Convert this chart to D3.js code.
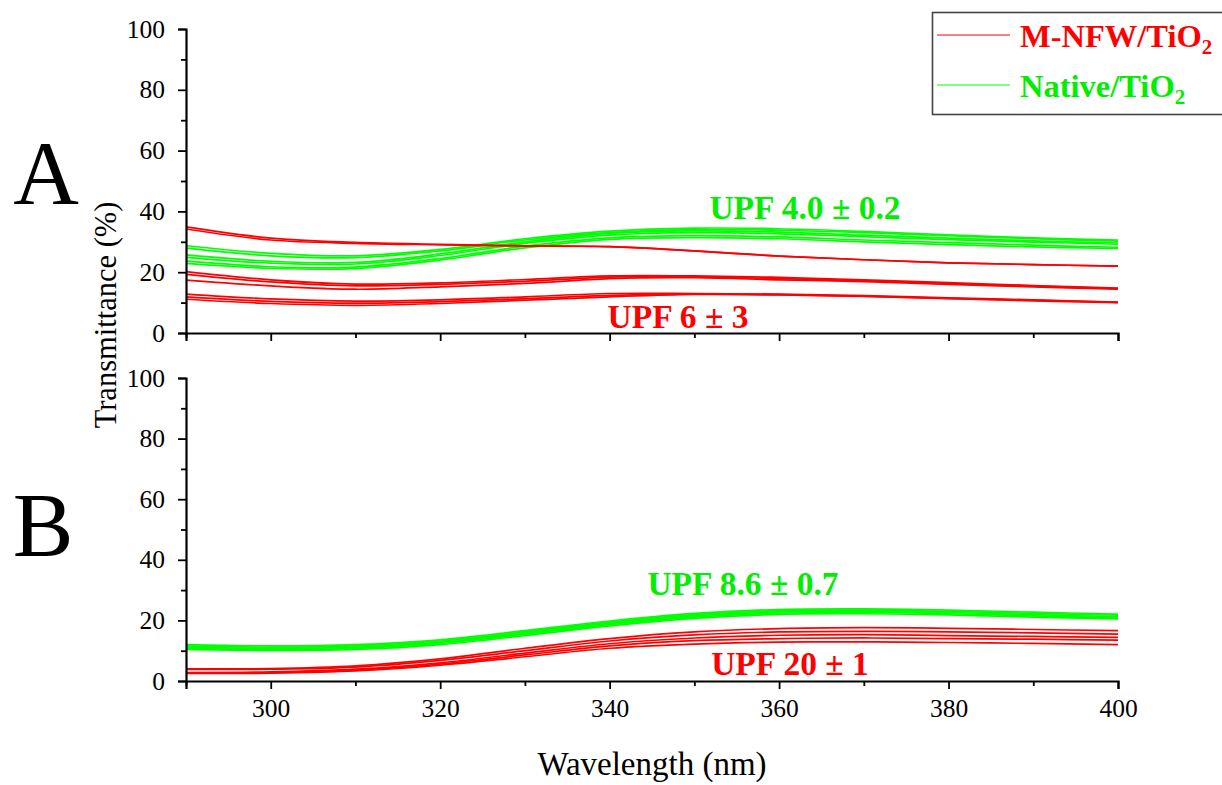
<!DOCTYPE html>
<html><head><meta charset="utf-8">
<script src="https://cdn.jsdelivr.net/npm/d3@7"></script>
<style>body{margin:0;background:#fff}svg{display:block}text{font-family:"Liberation Serif","Times New Roman",serif}</style>
</head><body>
<svg id="c" width="1222" height="785"></svg>
<script>
const wavelengths = [290,300,310,320,330,340,350,360,370,380,390,400];

// Panel A (top) — M-NFW/TiO2 (red)
const redA = [
  [34.9,31.2,29.8,29.2,28.7,28.4,27.0,25.3,24.1,23.1,22.5,22.0],
  [34.2,30.6,29.5,29.0,28.6,28.4,27.0,25.3,24.1,23.1,22.5,22.0],
  [20.2,17.5,16.1,16.5,17.6,18.8,18.8,18.3,17.5,16.6,15.6,14.8],
  [19.3,16.8,15.5,16.0,17.0,18.4,18.5,17.9,17.2,16.3,15.4,14.6],
  [17.4,15.5,14.4,15.2,16.3,17.9,18.2,17.5,16.9,16.0,15.2,14.4],
  [12.8,11.2,10.5,10.9,11.9,13.0,13.0,12.8,12.3,11.6,10.9,10.2],
  [11.9,10.4,9.8,10.3,11.3,12.4,12.9,12.6,12.1,11.4,10.8,10.1],
  [11.1,9.7,9.1,9.7,10.8,11.9,12.7,12.5,12.0,11.3,10.6,10.0]
];
// Panel A — Native/TiO2 (green)
const greenA = [
  [28.7,26.2,25.4,27.5,31.0,33.5,34.5,34.3,33.4,32.3,31.3,30.6],
  [27.9,25.4,24.8,27.0,30.6,33.0,34.0,33.8,33.0,32.0,31.0,30.2],
  [25.7,23.6,23.2,26.0,30.0,32.8,33.6,33.2,32.2,31.2,30.3,29.6],
  [24.9,23.0,22.7,25.5,29.5,32.2,33.0,32.6,31.7,30.7,29.9,29.2],
  [23.7,21.8,21.7,24.5,28.6,31.3,32.0,31.6,30.6,29.7,28.9,28.2],
  [22.9,21.3,21.2,24.0,28.0,30.8,31.4,31.0,30.0,29.1,28.3,27.8]
];
// Panel B (bottom) — M-NFW/TiO2 (red)
const redB = [
  [4.0,4.1,5.0,7.3,10.8,14.0,16.2,17.3,17.6,17.4,17.0,16.6],
  [3.8,3.9,4.6,6.8,10.0,13.2,15.2,16.2,16.4,16.2,15.9,15.5],
  [2.8,3.0,3.9,6.0,9.2,12.3,14.2,15.1,15.3,15.0,14.7,14.4],
  [2.6,2.8,3.6,5.6,8.6,11.6,13.3,14.0,14.2,14.0,13.8,13.5],
  [2.5,2.6,3.3,5.2,8.0,10.8,12.2,12.8,12.9,12.7,12.4,12.0]
];
// Panel B — Native/TiO2 (green)
const greenB = [
  [12.0,11.6,12.0,13.6,16.6,19.8,22.3,23.6,23.8,23.4,22.7,22.1],
  [11.6,11.2,11.6,13.2,16.2,19.4,21.9,23.2,23.4,23.0,22.3,21.7],
  [11.2,10.8,11.2,12.8,15.8,19.0,21.5,22.8,23.0,22.6,21.9,21.2],
  [10.8,10.4,10.8,12.4,15.4,18.6,21.1,22.4,22.6,22.2,21.5,20.8],
  [10.4,10.1,10.4,12.0,15.0,18.2,20.7,22.0,22.2,21.8,21.1,20.5]
];
const yTicks = [0,20,40,60,80,100];
const xTicks = [300,320,340,360,380,400];
const seriesNames = ["M-NFW/TiO", "Native/TiO"];
const upfA = ["UPF 4.0 \u00b1 0.2", "UPF 6 \u00b1 3"];
const upfB = ["UPF 8.6 \u00b1 0.7", "UPF 20 \u00b1 1"];

const RED = "#ff0000", GREEN = "#00ff00", GREENTXT = "#00ee00";
const svg = d3.select("#c");
const x = d3.scaleLinear().domain([290,400]).range([186,1118]);

function panel(top, bottom, reds, greens, showXLabels, letter, letterX, letterY) {
  const y = d3.scaleLinear().domain([0,100]).range([bottom, top]);
  const g = svg.append("g");
  const line = d3.line().x((d,i)=>x(wavelengths[i])).y(d=>y(d)).curve(d3.curveCatmullRom.alpha(0.5));
  greens.forEach(s => g.append("path").attr("d", line(s)).attr("fill","none").attr("stroke",GREEN).attr("stroke-width",1.7));
  reds.forEach(s => g.append("path").attr("d", line(s)).attr("fill","none").attr("stroke",RED).attr("stroke-width",1.7));

  g.append("g").attr("transform",`translate(${x(290)},0)`)
    .call(d3.axisLeft(y).tickValues(yTicks).tickSize(8).tickPadding(13).tickFormat(d3.format("d")));
  g.append("g").attr("transform",`translate(${x(290)},0)`)
    .call(d3.axisLeft(y).tickValues([10,30,50,70,90]).tickSize(5).tickFormat(""))
    .call(a=>a.select(".domain").remove());
  g.append("g").attr("transform",`translate(0,${bottom})`)
    .call(d3.axisBottom(x).tickValues(xTicks).tickSize(8).tickPadding(10).tickFormat(showXLabels ? d3.format("d") : ""));
  g.append("g").attr("transform",`translate(0,${bottom})`)
    .call(d3.axisBottom(x).tickValues([290,310,330,350,370,390]).tickSize(5).tickFormat(""))
    .call(a=>a.select(".domain").remove());
  g.selectAll(".domain").attr("stroke","#000").attr("stroke-width",2.2);
  g.selectAll(".tick line").attr("stroke","#000").attr("stroke-width",1.8);
  g.selectAll(".tick text").attr("font-size",25.5).attr("fill","#000");

  svg.append("text").attr("x",letterX).attr("y",letterY).attr("text-anchor","middle")
    .attr("font-size",91).attr("fill","#000").text(letter);
  return y;
}

panel(29, 333, redA, greenA, false, "A", 46, 204);
panel(378, 681, redB, greenB, true, "B", 43, 556);

function label(txt, cx, by, col) {
  svg.append("text").attr("x",cx).attr("y",by).attr("text-anchor","middle")
    .attr("font-size",33.5).attr("font-weight","bold").attr("fill",col).text(txt);
}
label(upfA[0], 805, 219, GREENTXT);
label(upfA[1], 678, 328, RED);
label(upfB[0], 743, 595, GREENTXT);
label(upfB[1], 790, 675, RED);

svg.append("text").attr("transform","translate(116,315) rotate(-90)").attr("text-anchor","middle")
  .attr("font-size",30.5).attr("fill","#000").text("Transmittance (%)");
svg.append("text").attr("x",652).attr("y",775).attr("text-anchor","middle")
  .attr("font-size",33).attr("fill","#000").text("Wavelength (nm)");

const lg = svg.append("g");
lg.append("rect").attr("x",932.5).attr("y",12.5).attr("width",300).attr("height",102)
  .attr("fill","#fff").attr("stroke","#444").attr("stroke-width",1.6);
[[RED,35,47,RED],[GREEN,85,97,GREENTXT]].forEach((d,i)=>{
  lg.append("line").attr("x1",937).attr("x2",1010).attr("y1",d[1]).attr("y2",d[1]).attr("stroke",d[0]).attr("stroke-width",1.2);
  const t = lg.append("text").attr("x",1020).attr("y",d[2]).attr("font-size",32.5).attr("font-weight","bold").attr("fill",d[3]);
  t.append("tspan").text(seriesNames[i]);
  t.append("tspan").attr("font-size",21).attr("dy",7).text("2");
});
</script>
</body></html>
